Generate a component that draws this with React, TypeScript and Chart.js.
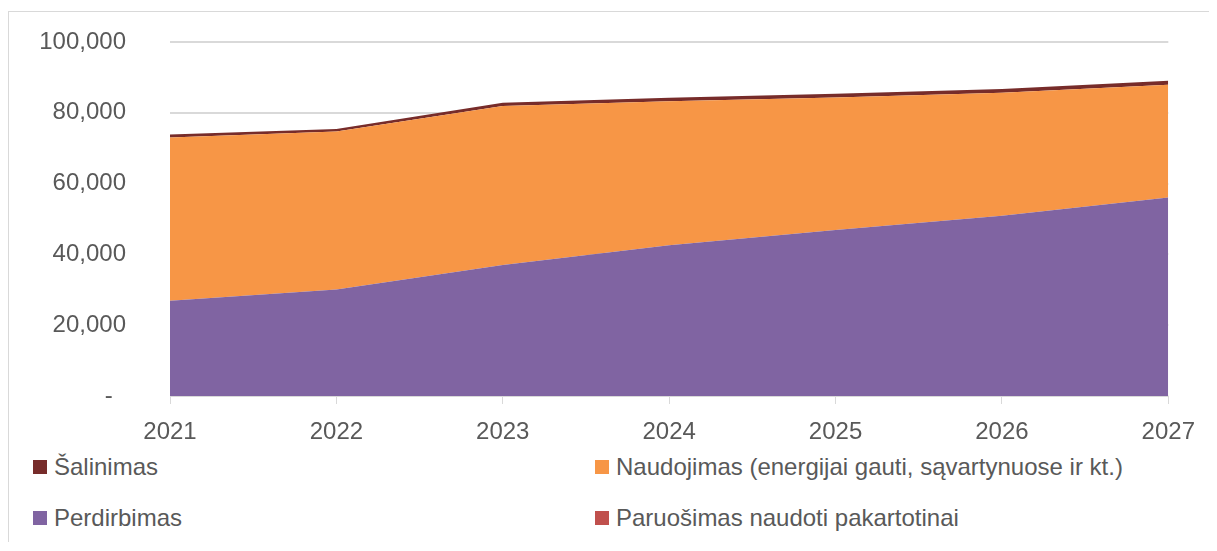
import React, { useEffect, useRef } from "react";
import { Chart, registerables } from "chart.js";

Chart.register(...registerables);

const years = ["2021", "2022", "2023", "2024", "2025", "2026", "2027"];
const perdirbimas = [26900, 30100, 37000, 42600, 46900, 50900, 56100];
const paruosimas = [0, 0, 0, 0, 0, 0, 0];
const naudojimas = [46100, 44600, 44900, 40650, 37400, 34750, 31800];
const salinimas = [850, 700, 950, 1000, 1050, 1100, 1150];

const seriesNames = [
  "Perdirbimas",
  "Paruošimas naudoti pakartotinai",
  "Naudojimas (energijai gauti, sąvartynuose ir kt.)",
  "Šalinimas",
];
const seriesColors = ["#8064A2", "#C0504D", "#F79646", "#772C2A"];

const FONT = "'Liberation Sans', Arial, sans-serif";
const TEXT = "#595959";

const legendItems = [
  { idx: 3, left: 24, top: 455 },
  { idx: 2, left: 586, top: 455 },
  { idx: 0, left: 24, top: 506 },
  { idx: 1, left: 586, top: 506 },
];

export default function App() {
  const ref = useRef<HTMLCanvasElement>(null);

  useEffect(() => {
    const seriesData = [perdirbimas, paruosimas, naudojimas, salinimas];
    const chart = new Chart(ref.current!, {
      type: "line",
      data: {
        labels: years,
        datasets: seriesData.map((d, i) => ({
          label: seriesNames[i],
          data: d,
          backgroundColor: seriesColors[i],
          borderColor: "rgba(0,0,0,0)",
          borderWidth: 0,
          pointRadius: 0,
          fill: i === 0 ? "origin" : "-1",
        })),
      },
      options: {
        animation: false,
        responsive: false,
        layout: { padding: { top: 30, right: 40, left: 0, bottom: 0 } },
        elements: { line: { tension: 0 }, point: { radius: 0 } },
        plugins: { legend: { display: false }, tooltip: { enabled: false } },
        scales: {
          x: {
            offset: false,
            grid: {
              drawOnChartArea: false,
              drawTicks: true,
              tickLength: 8,
              color: "#d9d9d9",
              lineWidth: 1,
            },
            border: { color: "#d9d9d9" },
            ticks: {
              padding: 14,
              color: TEXT,
              font: { family: FONT, size: 24 },
              maxRotation: 0,
            },
            afterFit: (s: any) => {
              s.height = 56;
            },
          },
          y: {
            stacked: true,
            min: 0,
            max: 100000,
            ticks: {
              stepSize: 20000,
              padding: 0,
              color: TEXT,
              font: { family: FONT, size: 24 },
              callback: (v: any) =>
                Number(v) === 0 ? "-  " : Number(v).toLocaleString("en-US"),
            },
            grid: {
              drawTicks: true,
              tickLength: 44,
              tickColor: "rgba(0,0,0,0)",
              color: "#d9d9d9",
              lineWidth: 2,
            },
            border: { display: false },
            afterFit: (s: any) => {
              s.width = 161;
            },
          },
        },
      },
    });
    return () => chart.destroy();
  }, []);

  return (
    <div
      style={{
        position: "relative",
        marginTop: 3,
        borderTop: "1px solid #d9d9d9",
        borderLeft: "1px solid #d9d9d9",
        height: 530,
        fontFamily: FONT,
      }}
    >
      <canvas
        ref={ref}
        width={1200}
        height={440}
        style={{ position: "absolute", left: 0, top: 0, width: 1200, height: 440 }}
      />
      {legendItems.map((it) => (
        <div
          key={it.idx}
          style={{
            position: "absolute",
            left: it.left,
            top: it.top - 15,
            height: 30,
            display: "flex",
            alignItems: "center",
            whiteSpace: "nowrap",
            fontSize: 24,
            color: TEXT,
          }}
        >
          <span
            style={{
              display: "inline-block",
              width: 14,
              height: 14,
              background: seriesColors[it.idx],
              marginRight: 7,
            }}
          />
          <span style={{ lineHeight: "30px" }}>{seriesNames[it.idx]}</span>
        </div>
      ))}
    </div>
  );
}
